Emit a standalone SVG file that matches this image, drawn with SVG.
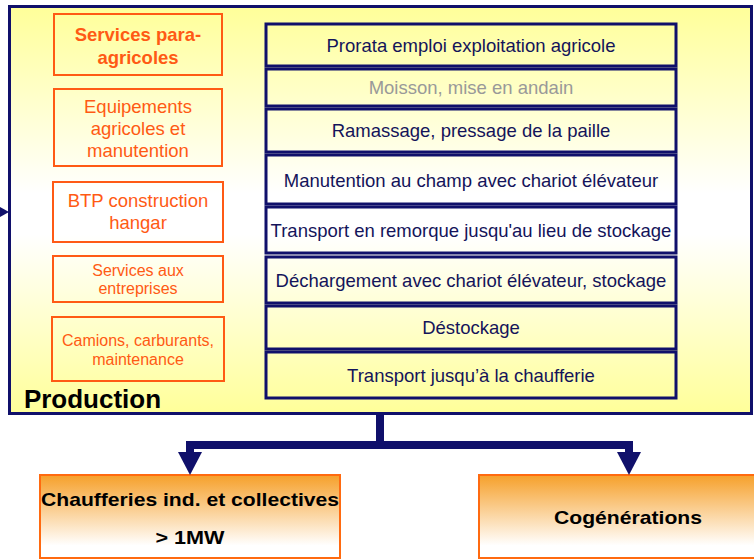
<svg xmlns="http://www.w3.org/2000/svg" width="754" height="559" viewBox="0 0 754 559">
<style>
.t{font-family:"Liberation Sans",Arial,sans-serif;text-anchor:middle}
.nav{fill:#14145a;font-size:18.5px}
.or{fill:#ff5a14}
.ob{fill:none;stroke:#ff5a14;stroke-width:2}
.nb{fill:none;stroke:#10106b;stroke-width:3}
.bb{fill:#000;font-weight:bold}
.con{fill:none;stroke:#10106b;stroke-width:8}
</style>
<defs>
<linearGradient id="gy" x1="0" y1="0" x2="0" y2="1">
<stop offset="0" stop-color="#ffff99"/>
<stop offset="0.46" stop-color="#ffffff"/>
<stop offset="0.56" stop-color="#ffffff"/>
<stop offset="1" stop-color="#ffff99"/>
</linearGradient>
<linearGradient id="go" x1="0" y1="0" x2="0" y2="1">
<stop offset="0" stop-color="#f6a02a"/>
<stop offset="0.85" stop-color="#ffffff"/>
</linearGradient>
<marker id="ah" markerUnits="userSpaceOnUse" viewBox="0 0 23 24" refX="0" refY="12" markerWidth="23" markerHeight="24" orient="auto">
<path d="M0,0 L23,12 L0,24 z" fill="#10106b"/>
</marker>
</defs>
<g id="production">
<rect x="9.5" y="6.5" width="742" height="407" fill="url(#gy)" stroke="#10106b" stroke-width="3"/>
<text class="t bb" x="92.5" y="408" font-size="26">Production</text>
</g>
<g id="services-para">
<rect class="ob" x="54" y="14" width="168" height="61" stroke-width="3"/>
<text class="t or" x="138" y="41" font-size="18.5" font-weight="bold">Services para-</text>
<text class="t or" x="138" y="64" font-size="18.5" font-weight="bold">agricoles</text>
</g>
<g id="equipements">
<rect class="ob" x="54" y="89" width="168" height="77"/>
<text class="t or" x="138" y="113" font-size="18.5">Equipements</text>
<text class="t or" x="138" y="135" font-size="18.5">agricoles et</text>
<text class="t or" x="138" y="157" font-size="18.5">manutention</text>
</g>
<g id="btp">
<rect class="ob" x="53" y="182" width="170" height="60"/>
<text class="t or" x="138" y="207" font-size="18.5">BTP construction</text>
<text class="t or" x="138" y="229" font-size="18.5">hangar</text>
</g>
<g id="services-entreprises">
<rect class="ob" x="53" y="256" width="170" height="46"/>
<text class="t or" x="138" y="276" font-size="16">Services aux</text>
<text class="t or" x="138" y="294" font-size="16">entreprises</text>
</g>
<g id="camions">
<rect class="ob" x="52" y="317" width="172" height="64"/>
<text class="t or" x="138" y="346" font-size="16">Camions, carburants,</text>
<text class="t or" x="138" y="365" font-size="16">maintenance</text>
</g>
<g id="prorata">
<rect class="nb" x="266" y="24" width="410" height="42"/>
<text class="t nav" x="471" y="51.5">Prorata emploi exploitation agricole</text>
</g>
<g id="moisson">
<rect class="nb" x="266" y="69" width="410" height="37" stroke="#8c8c8c"/>
<text class="t" x="471" y="94" font-size="18.5" fill="#999">Moisson, mise en andain</text>
</g>
<g id="ramassage">
<rect class="nb" x="266" y="109" width="410" height="43"/>
<text class="t nav" x="471" y="137">Ramassage, pressage de la paille</text>
</g>
<g id="manutention">
<rect class="nb" x="266" y="155" width="410" height="49"/>
<text class="t nav" x="471" y="187">Manutention au champ avec chariot élévateur</text>
</g>
<g id="transport-remorque">
<rect class="nb" x="266" y="207" width="410" height="46"/>
<text class="t nav" x="471" y="237">Transport en remorque jusqu'au lieu de stockage</text>
</g>
<g id="dechargement">
<rect class="nb" x="266" y="257" width="410" height="46"/>
<text class="t nav" x="471" y="287">Déchargement avec chariot élévateur, stockage</text>
</g>
<g id="destockage">
<rect class="nb" x="266" y="306" width="410" height="43"/>
<text class="t nav" x="471" y="334">Déstockage</text>
</g>
<g id="transport-chaufferie">
<rect class="nb" x="266" y="352" width="410" height="46"/>
<text class="t nav" x="471" y="382">Transport jusqu’à la chaufferie</text>
</g>
<g id="chaufferies">
<rect x="40" y="475" width="300" height="83" fill="url(#go)" stroke="#ff6a10" stroke-width="2"/>
<text class="t bb" x="190" y="506" font-size="19" textLength="298" lengthAdjust="spacingAndGlyphs">Chaufferies ind. et collectives</text>
<text class="t bb" x="190" y="544" font-size="19" textLength="69" lengthAdjust="spacingAndGlyphs">&gt; 1MW</text>
</g>
<g id="cogenerations">
<rect x="479" y="475" width="280" height="83" fill="url(#go)" stroke="#ff6a10" stroke-width="2"/>
<text class="t bb" x="628" y="524" font-size="19" textLength="148" lengthAdjust="spacingAndGlyphs">Cogénérations</text>
</g>
<g id="connectors">
<path class="con" d="M380 414 V445 H190 V452" marker-end="url(#ah)"/>
<path class="con" d="M380 445 H629 V452" marker-end="url(#ah)"/>
<polygon points="0,207 9,212 0,217" fill="#10106b"/>
</g>
</svg>
